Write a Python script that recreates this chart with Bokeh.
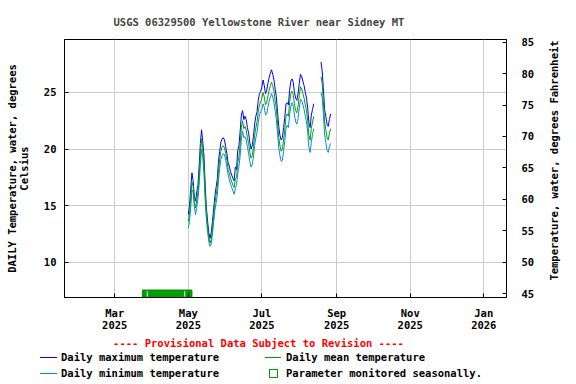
import math
import pandas as pd
from bokeh.plotting import figure
from bokeh.models import Range1d, LinearAxis, FixedTicker, Div
from bokeh.layouts import row, column
from bokeh.embed import file_html
from bokeh.resources import INLINE
from bokeh.core.properties import value

nan = float("nan")

TITLE = "USGS 06329500 Yellowstone River near Sidney MT"
START_DATE = "2025-05-01"

t_max = [14.2, 15.0, 16.5, 17.9, 17.2, 15.8, 15.4, 16.2, 16.8, 18.5,
         20.5, 21.7, 20.6, 19.4, 16.8, 14.8, 13.6, 12.6, 12.1, 12.6,
         13.6, 14.7, 15.8, 16.6, 17.3, 18.9, 19.8, 20.6, 20.9, 21.0,
         20.8, 20.2, 19.6, 18.8, 18.5, 18.0, 17.7, 17.4, 17.2, 18.4,
         18.2, 19.9, 20.3, 21.6, 23.0, 23.4, 22.6, 22.9, 22.6, 21.9,
         21.4, 20.6, 20.0, 20.3, 21.1, 22.2, 22.9, 23.3, 24.3, 24.9,
         25.1, 25.5, 26.1, 25.6, 24.9, 25.2, 25.8, 26.3, 26.7, 27.0,
         26.6, 26.1, 25.3, 24.6, 23.3, 22.0, 21.2, 20.8, 21.0, 21.9,
         22.8, 24.0, 24.1, 23.9, 25.2, 26.0, 26.2, 25.9, 25.0, 24.5,
         24.3, 24.9, 25.8, 26.6, 26.4, 26.0, 25.6, 25.0, 24.5, 23.6,
         22.3, 21.9, 23.0, 23.5, 24.0, nan, nan, nan, nan, nan,
         27.7, 26.9, 25.3, 23.5, 22.9, 22.2, 22.0, 22.6, 23.1]

t_min = [13.0, 13.6, 14.8, 16.4, 16.2, 14.9, 14.2, 14.9, 15.6, 16.9,
         18.6, 20.0, 19.3, 17.8, 15.5, 13.8, 12.7, 11.8, 11.4, 11.6,
         12.5, 13.5, 14.6, 15.2, 15.9, 17.2, 18.3, 19.1, 19.4, 19.6,
         19.5, 19.0, 18.4, 17.7, 17.3, 16.9, 16.6, 16.3, 16.0, 16.5,
         16.9, 17.8, 18.5, 19.4, 20.9, 21.6, 21.0, 21.1, 20.8, 20.2,
         19.6, 18.9, 18.4, 18.6, 19.3, 20.3, 21.0, 21.5, 22.4, 23.0,
         23.3, 23.5, 24.0, 23.7, 23.0, 23.1, 23.7, 24.2, 24.6, 24.9,
         24.6, 24.1, 23.4, 22.6, 21.4, 20.1, 19.4, 18.9, 19.0, 19.8,
         20.7, 21.8, 22.1, 21.9, 23.0, 23.8, 24.1, 23.8, 23.0, 22.4,
         22.2, 22.7, 23.6, 24.4, 24.3, 23.9, 23.5, 22.9, 22.4, 21.5,
         20.1, 19.7, 20.6, 21.3, 21.8, nan, nan, nan, nan, nan,
         25.0, 24.6, 23.1, 21.3, 20.6, 19.9, 19.7, 20.2, 20.5]

t_mean = [13.6, 14.3, 15.7, 17.1, 16.7, 15.3, 14.8, 15.5, 16.2, 17.7,
          19.5, 20.9, 20.0, 18.6, 16.1, 14.2, 13.1, 12.2, 11.7, 12.0,
          13.0, 14.1, 15.2, 15.9, 16.6, 18.0, 19.1, 19.8, 20.2, 20.3,
          20.1, 19.6, 19.0, 18.2, 17.9, 17.4, 17.1, 16.8, 16.6, 17.4,
          17.5, 18.8, 19.3, 20.5, 21.9, 22.5, 21.8, 22.0, 21.7, 21.0,
          20.5, 19.7, 19.2, 19.4, 20.2, 21.2, 21.9, 22.4, 23.3, 23.9,
          24.2, 24.5, 25.0, 24.6, 23.9, 24.1, 24.7, 25.2, 25.6, 25.9,
          25.6, 25.1, 24.3, 23.6, 22.3, 21.0, 20.3, 19.8, 20.0, 20.8,
          21.7, 22.9, 23.1, 22.9, 24.1, 24.9, 25.1, 24.8, 24.0, 23.4,
          23.2, 23.8, 24.7, 25.5, 25.3, 24.9, 24.5, 23.9, 23.4, 22.5,
          21.2, 20.8, 21.8, 22.4, 22.9, nan, nan, nan, nan, nan,
          26.4, 25.8, 24.2, 22.4, 21.7, 21.0, 20.8, 21.4, 21.8]

x_tick_dates = ["2025-03-01", "2025-05-01", "2025-07-01",
                "2025-09-01", "2025-11-01", "2026-01-01"]
x_tick_labels = ["Mar\n2025", "May\n2025", "Jul\n2025",
                 "Sep\n2025", "Nov\n2025", "Jan\n2026"]
c_ticks = [10, 15, 20, 25]
f_ticks = [45, 50, 55, 60, 65, 70, 75, 80, 85]

seasonal_start = "2025-03-24"
seasonal_end = "2025-05-04"
seasonal_marks = ["2025-03-28", "2025-04-28"]

legend_labels = ["Daily maximum temperature", "Daily mean temperature",
                 "Daily minimum temperature", "Parameter monitored seasonally."]
provisional_text = "---- Provisional Data Subject to Revision ----"
left_label = "DAILY Temperature, water, degrees\nCelsius"
right_label = "Temperature, water, degrees Fahrenheit"

C_LO, C_HI = 6.88, 29.68
X_START, X_END = "2025-01-18 08:00", "2026-01-19 20:00"

COL_MAX = "#0000ff"
COL_MIN = "#0a8ad4"
COL_MEAN = "#00a000"
FONT = "DejaVu Sans Mono"
FS = "10.5px"


def ms(s):
    return pd.Timestamp(s).value // 10**6


dates = pd.date_range(START_DATE, periods=len(t_max), freq="D")
x_ms = [d.value // 10**6 for d in dates]

p = figure(width=540, height=334, x_axis_type="datetime",
           x_range=Range1d(ms(X_START), ms(X_END)),
           y_range=Range1d(C_LO, C_HI),
           toolbar_location=None, output_backend="svg")
p.extra_y_ranges = {"F": Range1d(C_LO * 9 / 5 + 32, C_HI * 9 / 5 + 32)}
p.min_border_left = 64
p.min_border_right = 34
p.min_border_top = 39
p.min_border_bottom = 37
p.outline_line_color = "black"
p.outline_line_width = 1
p.background_fill_color = "white"
p.border_fill_color = "white"

p.title.text = TITLE
p.title.align = "left"
p.title.offset = 49
p.title.text_font = FONT
p.title.text_font_size = FS
p.title.text_font_style = "bold"
p.title.standoff = 23

xt = FixedTicker(ticks=[ms(d) for d in x_tick_dates])
ct = FixedTicker(ticks=c_ticks)
p.xaxis.ticker = xt
p.xaxis.major_label_overrides = {ms(d): lab for d, lab in zip(x_tick_dates, x_tick_labels)}
p.yaxis.ticker = ct
p.xgrid.ticker = xt
p.ygrid.ticker = ct
p.grid.grid_line_color = "#cccccc"
p.grid.grid_line_width = 1

ax_r = LinearAxis(y_range_name="F", ticker=FixedTicker(ticks=f_ticks))
p.add_layout(ax_r, "right")

p.yaxis[0].axis_label = left_label

for ax in p.axis:
    ax.major_label_text_font = FONT
    ax.major_label_text_font_size = FS
    ax.major_label_text_font_style = "bold"
    ax.major_label_text_color = "black"
    ax.axis_label_text_font = FONT
    ax.axis_label_text_font_size = FS
    ax.axis_label_text_font_style = "bold"
    ax.axis_label_text_color = "black"
    ax.major_tick_in = 4
    ax.major_tick_out = 0
    ax.minor_tick_line_color = None
    ax.axis_line_color = "black"
    ax.major_tick_line_color = "black"

p.xaxis.major_label_standoff = 9
p.xaxis.major_label_text_line_height = 1.0
p.yaxis[0].major_label_standoff = 8
p.yaxis[0].axis_label_standoff = 11
p.yaxis[0].axis_label_text_line_height = 1.0
ax_r.major_label_standoff = 15

# seasonal bar
p.quad(left=[ms(seasonal_start)], right=[ms(seasonal_end)],
       bottom=[C_LO - 0.2], top=[C_LO + 0.66],
       fill_color="#00a000", line_color="#008c00")
p.segment(x0=[ms(d) for d in seasonal_marks], y0=C_LO + 0.08,
          x1=[ms(d) for d in seasonal_marks], y1=C_LO + 0.55,
          line_color="white", line_width=1)

p.line(x_ms, t_max, line_color=COL_MAX, line_width=1)
p.line(x_ms, t_min, line_color=COL_MIN, line_width=1)
p.line(x_ms, t_mean, line_color=COL_MEAN, line_width=1)

# right-hand axis title, reading bottom to top
r = figure(width=36, height=334, x_range=Range1d(0, 36), y_range=Range1d(0, 258),
           toolbar_location=None, output_backend="svg",
           x_axis_location=None, y_axis_location=None,
           min_border_left=0, min_border_right=0,
           min_border_top=39, min_border_bottom=37)
r.grid.visible = False
r.outline_line_color = None
r.background_fill_color = "white"
r.border_fill_color = "white"
r.text(x=[13], y=[137], text=[right_label], angle=math.pi / 2,
       text_align="center", text_baseline="middle", text_color="black",
       text_font=value(FONT), text_font_size=FS, text_font_style="bold")

# bottom strip: provisional note and legend
font_css = ("font-family:'DejaVu Sans Mono',monospace;font-size:10.5px;"
            "font-weight:bold;line-height:12px;white-space:nowrap;")


def txt(left, top, s, color="black"):
    return (f'<div style="position:absolute;left:{left}px;top:{top}px;'
            f'color:{color};{font_css}">{s}</div>')


keys_svg = (
    '<svg xmlns="http://www.w3.org/2000/svg" width="576" height="50" '
    'style="position:absolute;left:0;top:0;">'
    f'<line x1="40" y1="23.5" x2="57" y2="23.5" stroke="{COL_MAX}" stroke-width="1"/>'
    f'<line x1="265" y1="23.5" x2="281" y2="23.5" stroke="{COL_MEAN}" stroke-width="1"/>'
    f'<line x1="40" y1="39.5" x2="57" y2="39.5" stroke="{COL_MIN}" stroke-width="1"/>'
    f'<rect x="269.5" y="35.5" width="8" height="8" fill="none" stroke="{COL_MEAN}" stroke-width="1"/>'
    '</svg>')

html = ('<div style="position:relative;width:576px;height:50px;'
        'background-color:white;">')
html += keys_svg
html += (f'<div style="position:absolute;left:0;top:3px;width:517px;'
         f'text-align:center;color:#ff0000;{font_css}">{provisional_text}</div>')
html += txt(61, 17, legend_labels[0]) + txt(286, 17, legend_labels[1])
html += txt(61, 33, legend_labels[2]) + txt(286, 33, legend_labels[3])
html += '</div>'

strip = Div(text=html, width=576, height=50, margin=0)

layout = column(row(p, r), strip)
open("out.html", "w").write(file_html(layout, INLINE))
